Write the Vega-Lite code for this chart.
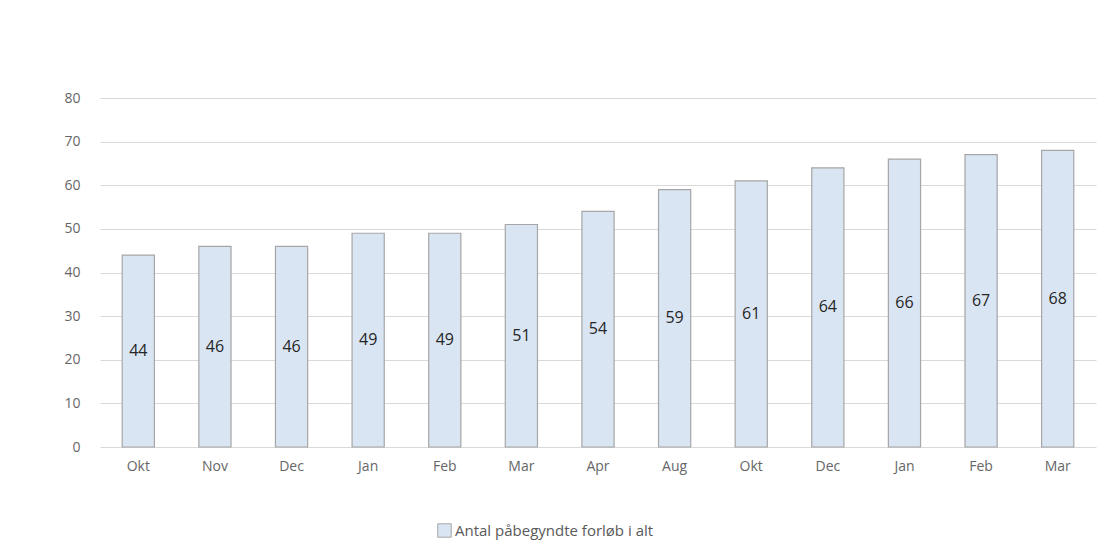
{
  "$schema": "https://vega.github.io/schema/vega-lite/v6.json",
  "autosize": "none",
  "width": 996,
  "height": 349,
  "padding": {"left": 100, "top": 98, "right": 20, "bottom": 107},
  "background": "white",
  "config": {
    "view": {"stroke": null},
    "font": "Open Sans",
    "axis": {"labelFont": "Open Sans", "labelColor": "#666666", "labelFontSize": 14},
    "legend": {"labelFont": "Open Sans", "labelColor": "#595959", "labelFontSize": 15}
  },
  "data": {
    "values": [
      {"id": "Okt 1", "v": 44},
      {"id": "Nov 1", "v": 46},
      {"id": "Dec 1", "v": 46},
      {"id": "Jan 1", "v": 49},
      {"id": "Feb 1", "v": 49},
      {"id": "Mar 1", "v": 51},
      {"id": "Apr 1", "v": 54},
      {"id": "Aug 1", "v": 59},
      {"id": "Okt 2", "v": 61},
      {"id": "Dec 2", "v": 64},
      {"id": "Jan 2", "v": 66},
      {"id": "Feb 2", "v": 67},
      {"id": "Mar 2", "v": 68}
    ]
  },
  "encoding": {
    "x": {
      "field": "id",
      "type": "nominal",
      "sort": null,
      "title": null,
      "scale": {"paddingInner": 0.58, "paddingOuter": 0.29},
      "axis": {"labelAngle": 0, "ticks": false, "domain": false, "labelPadding": 12, "labelExpr": "slice(datum.value, 0, 3)"}
    }
  },
  "layer": [
    {
      "mark": {"type": "bar", "stroke": "#a6a6a6", "strokeWidth": 1.2},
      "encoding": {
        "y": {
          "field": "v",
          "type": "quantitative",
          "title": null,
          "scale": {"domain": [0, 80]},
          "axis": {"values": [0,10,20,30,40,50,60,70,80], "ticks": false, "domain": false, "gridColor": "#d9d9d9", "gridWidth": 1, "labelPadding": 20}
        },
        "color": {
          "datum": "Antal påbegyndte forløb i alt",
          "type": "nominal",
          "scale": {"range": ["#dae5f3"]},
          "legend": {"title": null, "orient": "none", "legendX": 337, "legendY": 425, "labelLimit": 400, "symbolType": "square", "symbolSize": 180, "symbolStrokeColor": "#a6a6a6", "symbolStrokeWidth": 1, "labelOffset": 3}
        }
      }
    },
    {
      "transform": [{"calculate": "datum.v / 2", "as": "mid"}],
      "mark": {"type": "text", "font": "Open Sans", "fontSize": 16, "color": "#262626"},
      "encoding": {
        "y": {"field": "mid", "type": "quantitative"},
        "text": {"field": "v", "type": "quantitative"}
      }
    }
  ]
}
